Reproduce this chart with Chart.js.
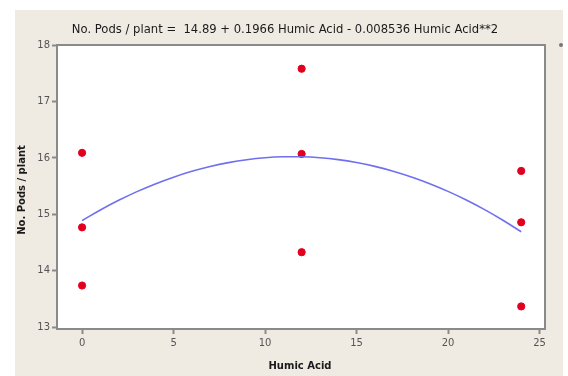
<!DOCTYPE html>
<html>
<head>
<meta charset="utf-8">
<script src="https://cdn.jsdelivr.net/npm/chart.js@4/dist/chart.umd.min.js"></script>
<style>
  html, body { margin: 0; padding: 0; background: #ffffff; }
  #wrap { width: 568px; height: 376px; position: relative; }
</style>
</head>
<body>
<div id="wrap"><canvas id="c" width="568" height="376"></canvas></div>
<script>
// Observed pod counts per plant at each humic acid dose
const humicAcid = [0, 0, 0, 12, 12, 12, 24, 24, 24];
const podsPerPlant = [16.09, 14.77, 13.74, 17.58, 16.07, 14.33, 15.77, 14.86, 13.37];

// Quadratic regression coefficients: intercept, linear, quadratic
const fitCoef = [14.89, 0.1966, -0.008536];
const fitX = [0, 1, 2, 3, 4, 5, 6, 7, 8, 9, 10, 11, 12, 13, 14, 15, 16, 17, 18, 19, 20, 21, 22, 23, 24];

const xTicks = [0, 5, 10, 15, 20, 25];
const yTicks = [13, 14, 15, 16, 17, 18];

const xTitle = 'Humic Acid';
const yTitle = 'No. Pods / plant';
const headline = 'No. Pods / plant =  ' + fitCoef[0] + ' + ' + fitCoef[1] + ' Humic Acid - ' +
  Math.abs(fitCoef[2]) + ' Humic Acid**2';

const scatterPts = humicAcid.map((x, i) => ({ x: x, y: podsPerPlant[i] }));
const fitPts = fitX.map(x => ({ x: x, y: fitCoef[0] + fitCoef[1] * x + fitCoef[2] * x * x }));

// Panel background, frame and text decorations
const decor = {
  id: 'decor',
  beforeDraw(chart) {
    const ctx = chart.ctx;
    const a = chart.chartArea;
    ctx.save();
    ctx.fillStyle = '#efebe3';
    ctx.fillRect(15, 10, 548, 366);
    ctx.fillStyle = '#ffffff';
    ctx.fillRect(a.left, a.top, a.right - a.left, a.bottom - a.top);
    ctx.restore();
  },
  afterDraw(chart) {
    const ctx = chart.ctx;
    const a = chart.chartArea;
    ctx.save();
    ctx.strokeStyle = '#8a8a8a';
    ctx.lineWidth = 2;
    ctx.strokeRect(a.left, a.top, a.right - a.left, a.bottom - a.top);
    ctx.fillStyle = '#1a1a1a';
    ctx.font = '11.6px "DejaVu Sans"';
    ctx.textAlign = 'center';
    ctx.textBaseline = 'middle';
    ctx.fillText(headline, 285, 30);
    ctx.font = 'bold 10px "DejaVu Sans"';
    ctx.fillText(xTitle, 300, 366);
    ctx.translate(22, 190);
    ctx.rotate(-Math.PI / 2);
    ctx.fillText(yTitle, 0, 0);
    ctx.restore();
    ctx.save();
    ctx.fillStyle = '#777777';
    ctx.beginPath();
    ctx.arc(561, 45, 2, 0, Math.PI * 2);
    ctx.fill();
    ctx.restore();
  }
};

new Chart(document.getElementById('c'), {
  type: 'scatter',
  data: {
    datasets: [
      {
        label: 'Fit',
        type: 'line',
        data: fitPts,
        borderColor: '#6f6ff0',
        borderWidth: 1.6,
        pointRadius: 0,
        tension: 0.4,
        fill: false
      },
      {
        label: 'Observed',
        data: scatterPts,
        backgroundColor: '#e2001f',
        borderColor: '#e2001f',
        pointRadius: 3.6,
        pointHoverRadius: 3.6
      }
    ]
  },
  options: {
    responsive: false,
    animation: false,
    devicePixelRatio: 1,
    layout: { padding: { top: 45, right: 23, bottom: 0, left: 0 } },
    plugins: { legend: { display: false }, tooltip: { enabled: false }, title: { display: false } },
    scales: {
      x: {
        type: 'linear',
        min: -1.37,
        max: 25.3,
        afterFit(s) { s.height = 47; },
        afterBuildTicks(s) { s.ticks = xTicks.map(v => ({ value: v })); },
        grid: { drawOnChartArea: false, tickLength: 5, tickColor: '#8a8a8a', tickWidth: 2 },
        border: { display: false },
        ticks: { color: '#555555', font: { family: 'DejaVu Sans', size: 10 }, padding: 3, maxRotation: 0 }
      },
      y: {
        type: 'linear',
        min: 12.97,
        max: 18.0,
        afterFit(s) { s.width = 57; },
        afterBuildTicks(s) { s.ticks = yTicks.map(v => ({ value: v })); },
        grid: { drawOnChartArea: false, tickLength: 5, tickColor: '#8a8a8a', tickWidth: 2 },
        border: { display: false },
        ticks: { color: '#555555', font: { family: 'DejaVu Sans', size: 10 }, padding: 2 }
      }
    }
  },
  plugins: [decor]
});
</script>
</body>
</html>
